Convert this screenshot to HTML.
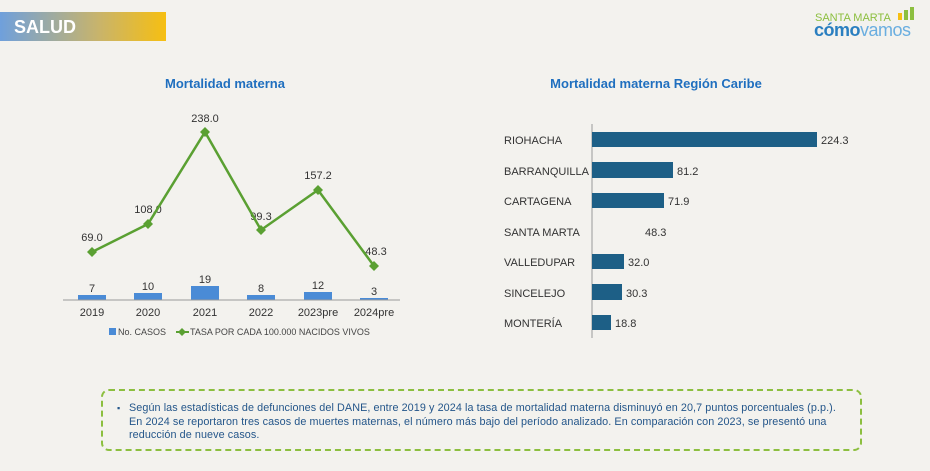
<!DOCTYPE html>
<html><head><meta charset="utf-8"><style>
body{margin:0;width:930px;height:471px;background:#f3f2ee;overflow:hidden;position:relative;font-family:"Liberation Sans",sans-serif}
.hdr{position:absolute;left:0;top:12px;width:166px;height:29px;background:linear-gradient(90deg,#6fa0dc,#c9b46a 60%,#f6bf12)}
.hdr span{position:absolute;left:14px;top:5px;color:#fff;font-weight:bold;font-size:18px}
.box{position:absolute;left:101px;top:389px;width:757px;height:58px;border:2px dashed #8cbf3f;border-radius:8px}
.box p{margin:0;position:absolute;left:26px;top:11px;white-space:nowrap;font-size:10.8px;line-height:13.5px;color:#24568a;letter-spacing:0.08px;font-family:"Liberation Sans",sans-serif}
.box b{position:absolute;left:14px;top:12px;font-size:9px;color:#24568a;font-weight:normal}
</style></head><body>
<div class="hdr"><span>SALUD</span></div>
<div style="position:absolute;left:815px;top:12px;color:#8cbf3f;font-size:11px">SANTA MARTA</div>
<div style="position:absolute;left:898px;top:13px;width:4px;height:7px;background:#f6bf12"></div>
<div style="position:absolute;left:904px;top:10px;width:4px;height:10px;background:#8cbf3f"></div>
<div style="position:absolute;left:910px;top:7px;width:4px;height:13px;background:#8cbf3f"></div>
<div style="position:absolute;left:814px;top:20px;font-size:18px;font-weight:bold;color:#2a7fc0;letter-spacing:-0.5px">cómo<span style="font-weight:normal;color:#6aaee0">vamos</span></div>
<svg width="930" height="471" style="position:absolute;left:0;top:0" font-family="Liberation Sans,sans-serif">
<text x="225" y="88" text-anchor="middle" font-size="13" font-weight="bold" fill="#1f6fbf">Mortalidad materna</text>
<text x="656" y="88" text-anchor="middle" font-size="13" font-weight="bold" fill="#1f6fbf">Mortalidad materna Región Caribe</text>
<g fill="#4a8bd6">
<rect x="78" y="295" width="28" height="5"/><rect x="134" y="293" width="28" height="7"/><rect x="191" y="286" width="28" height="14"/><rect x="247" y="295" width="28" height="5"/><rect x="304" y="292" width="28" height="8"/><rect x="360" y="298" width="28" height="2"/>
</g>
<line x1="63" y1="300" x2="400" y2="300" stroke="#999"/>
<g font-size="11" fill="#333" text-anchor="middle">
<text x="92" y="292">7</text><text x="148" y="290">10</text><text x="205" y="283">19</text><text x="261" y="292">8</text><text x="318" y="289">12</text><text x="374" y="295">3</text>
<text x="92" y="316">2019</text><text x="148" y="316">2020</text><text x="205" y="316">2021</text><text x="261" y="316">2022</text><text x="318" y="316">2023pre</text><text x="374" y="316">2024pre</text>
<text x="92" y="241">69.0</text><text x="148" y="213">108.0</text><text x="205" y="122">238.0</text><text x="261" y="220">99.3</text><text x="318" y="179">157.2</text><text x="376" y="255">48.3</text>
</g>
<polyline points="92,252 148,224 205,132 261,230 318,190 374,266" fill="none" stroke="#5aa032" stroke-width="2.5"/>
<g fill="#5aa032">
<path d="M92,247l5,5-5,5-5-5z"/><path d="M148,219l5,5-5,5-5-5z"/><path d="M205,127l5,5-5,5-5-5z"/><path d="M261,225l5,5-5,5-5-5z"/><path d="M318,185l5,5-5,5-5-5z"/><path d="M374,261l5,5-5,5-5-5z"/>
</g>
<rect x="109" y="328" width="7" height="7" fill="#4a8bd6"/>
<text x="118" y="335" font-size="9" fill="#444">No. CASOS</text>
<line x1="176" y1="332" x2="189" y2="332" stroke="#5aa032" stroke-width="2"/><path d="M182,328l4,4-4,4-4-4z" fill="#5aa032"/>
<text x="190" y="335" font-size="9" fill="#444">TASA POR CADA 100.000 NACIDOS VIVOS</text>
<line x1="592" y1="124" x2="592" y2="338" stroke="#999"/>
<g fill="#1d5f86">
<rect x="592" y="132" width="225" height="15"/><rect x="592" y="162" width="81" height="16"/><rect x="592" y="193" width="72" height="15"/><rect x="592" y="254" width="32" height="15"/><rect x="592" y="284" width="30" height="16"/><rect x="592" y="315" width="19" height="15"/>
</g>
<g font-size="11" fill="#333">
<text x="504" y="144">RIOHACHA</text><text x="504" y="175">BARRANQUILLA</text><text x="504" y="205">CARTAGENA</text><text x="504" y="236">SANTA MARTA</text><text x="504" y="266">VALLEDUPAR</text><text x="504" y="297">SINCELEJO</text><text x="504" y="327">MONTERÍA</text>
<text x="821" y="144">224.3</text><text x="677" y="175">81.2</text><text x="668" y="205">71.9</text><text x="645" y="236">48.3</text><text x="628" y="266">32.0</text><text x="626" y="297">30.3</text><text x="615" y="327">18.8</text>
</g>
</svg>
<div class="box"><b>▪</b><p>Según las estadísticas de defunciones del DANE, entre 2019 y 2024 la tasa de mortalidad materna disminuyó en 20,7 puntos porcentuales (p.p.).<br>En 2024 se reportaron tres casos de muertes maternas, el número más bajo del período analizado. En comparación con 2023, se presentó una<br>reducción de nueve casos.</p></div>
</body></html>
